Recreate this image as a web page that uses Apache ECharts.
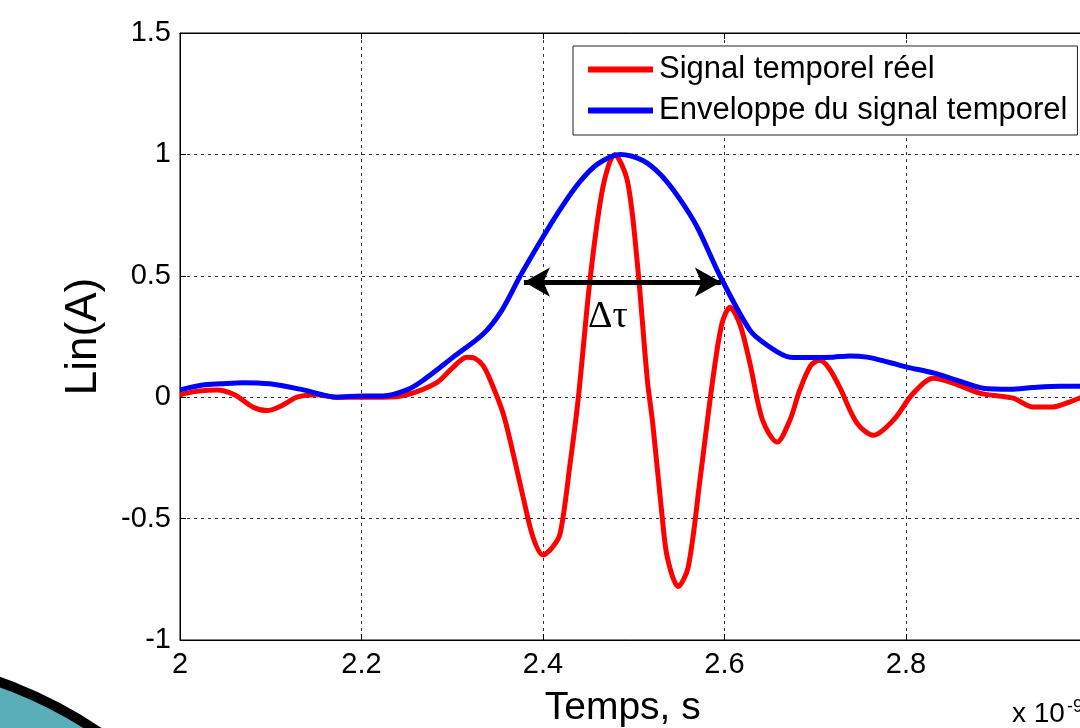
<!DOCTYPE html>
<html>
<head>
<meta charset="utf-8">
<script src="https://cdn.jsdelivr.net/npm/echarts@6/dist/echarts.min.js"></script>
<style>
  html, body { margin: 0; padding: 0; background: #fff; }
  #chart { width: 1080px; height: 728px; }
</style>
</head>
<body>
<div id="chart"></div>
<script>
// Temps (x 10^-9 s) et amplitudes
const signalTimes = [2.000, 2.020, 2.041, 2.060, 2.080, 2.096, 2.112, 2.129, 2.150, 2.173, 2.200, 2.224, 2.250, 2.283, 2.300, 2.316, 2.325, 2.334, 2.342, 2.356, 2.367, 2.378, 2.389, 2.400, 2.410, 2.419, 2.430, 2.439, 2.452, 2.466, 2.479, 2.493, 2.504, 2.515, 2.521, 2.531, 2.537, 2.549, 2.560, 2.573, 2.587, 2.597, 2.606, 2.617, 2.628, 2.642, 2.658, 2.672, 2.683, 2.695, 2.705, 2.715, 2.727, 2.746, 2.764, 2.786, 2.808, 2.830, 2.852, 2.882, 2.918, 2.940, 2.962, 2.980, 3.000];
const signalValues = [0.01, 0.025, 0.03, 0.01, -0.04, -0.055, -0.035, 0.0, 0.01, 0.0, 0.0, 0.0, 0.01, 0.06, 0.12, 0.165, 0.16, 0.13, 0.07, -0.066, -0.23, -0.41, -0.577, -0.65, -0.62, -0.56, -0.27, 0.0, 0.49, 0.865, 1.0, 0.89, 0.55, 0.07, -0.11, -0.48, -0.66, -0.78, -0.70, -0.34, 0.07, 0.30, 0.37, 0.30, 0.14, -0.095, -0.185, -0.095, 0.03, 0.13, 0.152, 0.12, 0.04, -0.107, -0.157, -0.095, 0.016, 0.078, 0.058, 0.016, -0.004, -0.04, -0.04, -0.02, 0.01];

const envelopeTimes = [2.000, 2.025, 2.045, 2.069, 2.099, 2.136, 2.173, 2.200, 2.224, 2.250, 2.268, 2.301, 2.334, 2.355, 2.375, 2.400, 2.420, 2.440, 2.460, 2.485, 2.510, 2.530, 2.550, 2.570, 2.595, 2.628, 2.647, 2.672, 2.700, 2.720, 2.738, 2.757, 2.780, 2.801, 2.830, 2.860, 2.885, 2.915, 2.940, 2.970, 3.000];
const envelopeValues = [0.03, 0.05, 0.055, 0.06, 0.055, 0.03, 0.0, 0.005, 0.005, 0.03, 0.07, 0.165, 0.26, 0.36, 0.50, 0.66, 0.78, 0.885, 0.96, 1.0, 0.975, 0.915, 0.82, 0.70, 0.50, 0.276, 0.214, 0.165, 0.163, 0.165, 0.17, 0.165, 0.145, 0.124, 0.10, 0.065, 0.037, 0.033, 0.04, 0.045, 0.045];

// Flèche Δτ (largeur à mi-hauteur)
const deltaStart = [2.379, 0.474];
const deltaEnd = [2.596, 0.474];

const seriesNames = ["Signal temporel réel", "Enveloppe du signal temporel"];

const FONT = "'Liberation Sans', Arial, sans-serif";

const chart = echarts.init(document.getElementById("chart"));

const toPairs = (xs, ys) => xs.map((x, i) => [x, ys[i]]);

const gridLine = { show: true, lineStyle: { color: "#333", width: 1, type: [3, 4] } };

const option = {
  animation: false,
  backgroundColor: "#fff",
  grid: {
    left: 180, top: 33, right: -7.5, bottom: 88,
    outerBoundsMode: "none",
    show: true, borderColor: "#000", borderWidth: 1,
  },
  legend: {
    data: seriesNames,
    orient: "vertical",
    left: 573,
    top: 46,
    padding: [8, 10, 9, 15],
    itemGap: 10,
    itemWidth: 65,
    itemHeight: 6,
    icon: "rect",
    backgroundColor: "#fff",
    borderColor: "#222",
    borderWidth: 1,
    textStyle: { fontFamily: FONT, fontSize: 31, color: "#000", lineHeight: 30, padding: [0, 0, 0, 1] },
  },
  xAxis: [
    {
      type: "value",
      min: 2,
      max: 3,
      interval: 0.2,
      name: "Temps, s",
      nameLocation: "middle",
      nameGap: 49,
      nameTextStyle: { fontFamily: FONT, fontSize: 39, color: "#000", padding: [0, 22, 0, 0] },
      axisLine: { onZero: false, lineStyle: { color: "#000", width: 1 } },
      axisTick: { inside: true, length: 6, lineStyle: { color: "#000" } },
      axisLabel: { fontFamily: FONT, fontSize: 29, color: "#000", margin: 10, showMaxLabel: false },
      splitLine: gridLine,
    },
    {
      type: "value",
      position: "top",
      min: 2,
      max: 3,
      interval: 0.2,
      axisLine: { onZero: false, lineStyle: { color: "#000", width: 1 } },
      axisTick: { inside: true, length: 6, lineStyle: { color: "#000" } },
      axisLabel: { show: false },
      splitLine: { show: false },
    },
  ],
  yAxis: {
    type: "value",
    min: -1,
    max: 1.5,
    interval: 0.5,
    name: "Lin(A)",
    nameLocation: "middle",
    nameGap: 74,
    nameRotate: 90,
    nameTextStyle: { fontFamily: FONT, fontSize: 44, color: "#000" },
    axisLine: { show: true, onZero: false, lineStyle: { color: "#000", width: 1 } },
    axisTick: { show: true, inside: true, length: 6, lineStyle: { color: "#000" } },
    axisLabel: { fontFamily: FONT, fontSize: 29, color: "#000", margin: 9 },
    splitLine: gridLine,
  },
  series: [
    {
      name: seriesNames[0],
      type: "line",
      data: toPairs(signalTimes, signalValues),
      smooth: 0.3,
      showSymbol: false,
      lineStyle: { color: "#ff0000", width: 5 },
      itemStyle: { color: "#ff0000" },
      markLine: {
        silent: true,
        symbol: ["arrow", "arrow"],
        symbolSize: [22, 26],
        label: { show: false },
        lineStyle: { color: "#000", width: 5, type: "solid" },
        data: [[{ coord: deltaStart }, { coord: deltaEnd }]],
      },
    },
    {
      name: seriesNames[1],
      type: "line",
      data: toPairs(envelopeTimes, envelopeValues),
      smooth: 0.3,
      showSymbol: false,
      lineStyle: { color: "#0000ff", width: 5 },
      itemStyle: { color: "#0000ff" },
    },
  ],
  graphic: [
    {
      type: "text",
      left: 588,
      top: 298,
      style: { text: "Δτ", font: "38px 'Liberation Serif', 'Times New Roman', serif", fill: "#000" },
      z: 10,
    },
    {
      type: "text",
      left: 1012,
      top: 698,
      style: {
        text: "x 10{sup|-9}",
        font: "28px " + FONT,
        fill: "#000",
        rich: { sup: { fontSize: 18, fontFamily: FONT, fill: "#000", verticalAlign: "top", padding: [0, 0, 14, 2] } },
      },
    },
    {
      type: "circle",
      shape: { cx: -150, cy: 1100, r: 444 },
      style: { fill: "#5aaeb8", stroke: "#000", lineWidth: 10 },
      z: -1,
    },
  ],
};

chart.setOption(option);
</script>
</body>
</html>
